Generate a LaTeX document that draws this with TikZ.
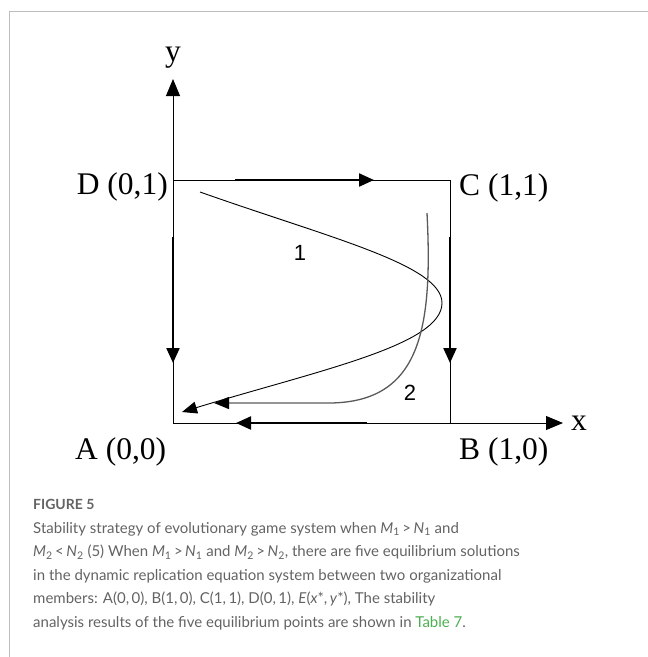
\documentclass[tikz,border=0pt]{standalone}
\usepackage{fontspec}
\setmainfont{Liberation Serif}
\setsansfont{Lato}
\newfontfamily\digitfont{Liberation Sans}
\usepackage{tikz}
\usetikzlibrary{arrows.meta}
\definecolor{captiongray}{HTML}{636363}
\definecolor{framegray}{HTML}{BDBDBD}
\definecolor{tablegreen}{HTML}{4CAF50}
\definecolor{curvegray}{HTML}{5A5A5A}
\tikzstyle{axis} = [draw, line width=0.9pt, -{Triangle[length=17pt,width=14pt]}]
\tikzstyle{edge} = [draw, line width=0.9pt]
\tikzstyle{flow} = [draw, line width=2.2pt, -{Triangle[length=15pt,width=13pt]}]
\tikzstyle{traj} = [draw, line width=0.9pt, -{Triangle[length=15pt,width=12pt]}]
\tikzstyle{trajgray} = [draw=curvegray, line width=1.3pt,
-{Triangle[length=15pt,width=12pt,color=black]}]
\tikzstyle{corner} = [inner sep=0pt, font=\fontsize{31.5}{33}\selectfont]
\tikzstyle{num} = [inner sep=0pt, font=\digitfont\fontsize{22}{24}\selectfont]
\tikzstyle{caption} = [inner sep=0pt, text=captiongray, align=left,
font=\sffamily\fontsize{15}{23.5}\selectfont]

\begin{document}
\begin{tikzpicture}[x=1pt, y=-1pt]
	\useasboundingbox (0,0) rectangle (648,657);
	
	% Panel frame
	\draw [framegray, line width=1pt] (9,657) -- (9,11) -- (648,11);
	
	% Corner points
	\coordinate (A) at (173,423);
	\coordinate (B) at (450,423);
	\coordinate (C) at (450,180);
	\coordinate (D) at (173,180);
	\coordinate (ytip) at (173,79);
	\coordinate (xtip) at (563,423);
	
	% Axes and square
	\path [axis] (A) -- (ytip);
	\path [axis] (A) -- (xtip);
	\path [edge] (D) -- (C) -- (B);
	
	% Corner labels
	\node [corner, anchor=base east] (Dlab) at (168,194) {D (0,1)};
	\node [corner, anchor=base west] (Clab) at (459,195) {C (1,1)};
	\node [corner, anchor=base west] (Alab) at (75,459) {A (0,0)};
	\node [corner, anchor=base west] (Blab) at (459,459) {B (1,0)};
	\node [corner, anchor=west] (xlab) at (571,423.5) {x};
	\node [corner, anchor=base] (ylab) at (173,61) {y};
	
	% Flow directions on the edges
	\coordinate (top1) at (235,180);   \coordinate (top2) at (374,180);
	\coordinate (left1) at (173,237);  \coordinate (left2) at (173,363);
	\coordinate (right1) at (450,237); \coordinate (right2) at (450,363);
	\coordinate (bot1) at (367,423);   \coordinate (bot2) at (236,423);
	\path [flow] (top1) -- (top2);
	\path [flow] (left1) -- (left2);
	\path [flow] (right1) -- (right2);
	\path [flow] (bot1) -- (bot2);
	
	% Trajectories
	\coordinate (onestart) at (200,192);
	\coordinate (oneend) at (182,412);
	\coordinate (twostart) at (427,213);
	\coordinate (twoend) at (214,403);
	\path [traj] (onestart) .. controls (330,238) and (442,265) .. (442,303)
	.. controls (442,345) and (320,370) .. (oneend);
	\path [trajgray] (twostart) .. controls (433,330) and (420,402) .. (330,403)
	-- (twoend);
	\node [num] (one) at (300,253) {1};
	\node [num] (two) at (410,393) {2};
	
	% Caption
	\node [caption, anchor=base west, font=\sffamily\bfseries\fontsize{14}{16}\selectfont]
	(figno) at (33,509) {FIGURE 5};
	\node [caption, anchor=north west] (captext) at (33,522)
	{Stability strategy of evolutionary game system when \textit{M}\textsubscript{1}\,>\,\textit{N}\textsubscript{1} and\\
		\textit{M}\textsubscript{2}\,<\,\textit{N}\textsubscript{2} (5) When \textit{M}\textsubscript{1}\,>\,\textit{N}\textsubscript{1} and \textit{M}\textsubscript{2}\,>\,\textit{N}\textsubscript{2}, there are five equilibrium solutions\\
		in the dynamic replication equation system between two organizational\\
		members: A(0,\,0), B(1,\,0), C(1,\,1), D(0,\,1), \textit{E}(\textit{x}*,\,\textit{y}*), The stability\\
		analysis results of the five equilibrium points are shown in \textcolor{tablegreen}{Table 7}.};
	
\end{tikzpicture}
\end{document}
